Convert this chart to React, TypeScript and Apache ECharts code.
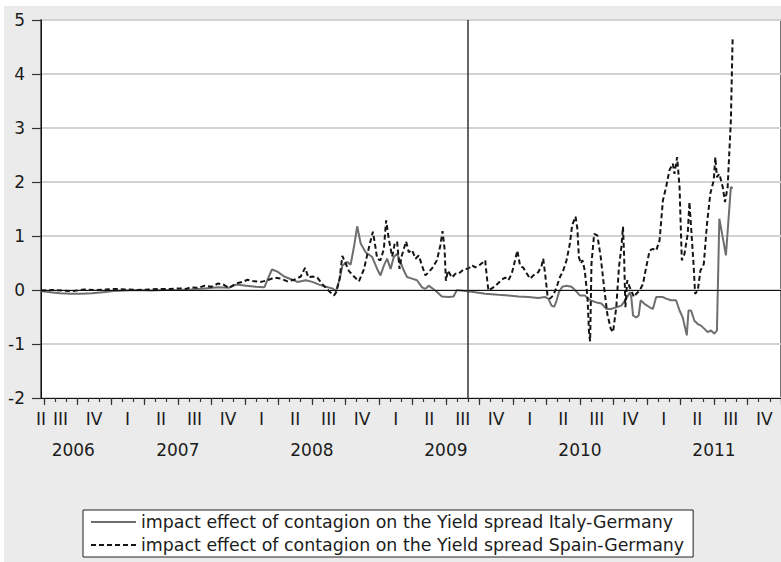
import React, { useEffect, useRef } from "react";
import * as echarts from "echarts";

// ---- axis ranges & tick labels ----
const X_MIN = 2006.479;
const X_MAX = 2012.0;
const Y_MIN = -2;
const Y_MAX = 5;
const BREAK_DATE = 2009.66;
const quarterNames = ["I", "II", "III", "IV"];
const yearLabels = ["2006", "2007", "2008", "2009", "2010", "2011"];
const yearLabelPos = [2006.72, 2007.5, 2008.5, 2009.5, 2010.5, 2011.5];
const firstYear = 2006;
const lastYear = 2011;

// ---- series (decimal year, value) ----
const italy: [number, number][] = [
  [2006.479, -0.02], [2006.55, -0.04], [2006.62, -0.06], [2006.7, -0.07], [2006.78, -0.07], [2006.86, -0.06],
  [2006.94, -0.04], [2007.02, -0.02], [2007.1, -0.01], [2007.2, 0.0], [2007.3, -0.01], [2007.4, 0.0],
  [2007.5, 0.0], [2007.6, 0.01], [2007.7, 0.03], [2007.8, 0.05], [2007.88, 0.04], [2007.934, 0.1],
  [2008.009, 0.08], [2008.083, 0.06], [2008.145, 0.05], [2008.177, 0.24], [2008.202, 0.38], [2008.243, 0.34],
  [2008.293, 0.25], [2008.355, 0.19], [2008.392, 0.15], [2008.455, 0.18], [2008.504, 0.15], [2008.554, 0.1],
  [2008.603, 0.06], [2008.652, 0.03], [2008.68, -0.02], [2008.707, 0.2], [2008.727, 0.45], [2008.762, 0.52],
  [2008.789, 0.47], [2008.814, 0.8], [2008.838, 1.18], [2008.864, 0.86], [2008.901, 0.7], [2008.95, 0.61],
  [2008.987, 0.39], [2009.012, 0.27], [2009.037, 0.45], [2009.061, 0.58], [2009.087, 0.39], [2009.111, 0.61],
  [2009.136, 0.67], [2009.161, 0.52], [2009.186, 0.36], [2009.21, 0.24], [2009.247, 0.21], [2009.284, 0.18],
  [2009.322, 0.05], [2009.347, 0.02], [2009.371, 0.08], [2009.421, -0.01], [2009.47, -0.12], [2009.52, -0.13],
  [2009.557, -0.12], [2009.582, 0.0], [2009.644, -0.02], [2009.719, -0.04], [2009.793, -0.07], [2009.892, -0.09],
  [2009.966, -0.1], [2010.041, -0.12], [2010.115, -0.13], [2010.189, -0.15], [2010.239, -0.13], [2010.264, -0.16],
  [2010.288, -0.29], [2010.308, -0.31], [2010.325, -0.2], [2010.343, -0.04], [2010.368, 0.06], [2010.4, 0.08],
  [2010.437, 0.06], [2010.467, -0.01], [2010.499, -0.1], [2010.536, -0.1], [2010.561, -0.16], [2010.586, -0.2],
  [2010.623, -0.23], [2010.66, -0.25], [2010.697, -0.35], [2010.734, -0.35], [2010.771, -0.32], [2010.809, -0.29],
  [2010.846, -0.16], [2010.872, -0.04], [2010.883, -0.13], [2010.896, -0.47], [2010.92, -0.51], [2010.938, -0.47],
  [2010.953, -0.19], [2010.983, -0.26], [2011.02, -0.32], [2011.044, -0.35], [2011.069, -0.13], [2011.094, -0.13],
  [2011.119, -0.13], [2011.143, -0.16], [2011.18, -0.19], [2011.217, -0.19], [2011.243, -0.38], [2011.267, -0.51],
  [2011.297, -0.84], [2011.31, -0.38], [2011.329, -0.38], [2011.354, -0.57], [2011.379, -0.63], [2011.403, -0.66],
  [2011.429, -0.72], [2011.453, -0.78], [2011.478, -0.75], [2011.503, -0.81], [2011.522, -0.75], [2011.54, 1.32],
  [2011.565, 0.98], [2011.589, 0.64], [2011.626, 1.91], [2011.639, 1.88],
];

const spain: [number, number][] = [
  [2006.479, -0.01], [2006.56, 0.0], [2006.64, -0.01], [2006.72, -0.02], [2006.8, 0.01], [2006.88, 0.0],
  [2006.96, 0.01], [2007.04, 0.02], [2007.12, 0.01], [2007.2, 0.0], [2007.28, 0.01], [2007.36, 0.02],
  [2007.44, 0.02], [2007.52, 0.03], [2007.56, 0.02], [2007.6, 0.05], [2007.65, 0.04], [2007.7, 0.08],
  [2007.75, 0.06], [2007.8, 0.12], [2007.84, 0.1], [2007.88, 0.04], [2007.934, 0.12], [2007.983, 0.15],
  [2008.02, 0.19], [2008.07, 0.16], [2008.12, 0.15], [2008.169, 0.18], [2008.219, 0.23], [2008.269, 0.21],
  [2008.318, 0.16], [2008.368, 0.19], [2008.417, 0.25], [2008.449, 0.41], [2008.474, 0.23], [2008.504, 0.25],
  [2008.541, 0.23], [2008.578, 0.11], [2008.623, -0.01], [2008.665, -0.1], [2008.682, -0.04], [2008.707, 0.21],
  [2008.727, 0.63], [2008.751, 0.5], [2008.777, 0.35], [2008.814, 0.25], [2008.851, 0.16], [2008.888, 0.38],
  [2008.925, 0.78], [2008.955, 1.08], [2008.974, 0.8], [2008.987, 0.58], [2009.012, 0.55], [2009.037, 0.76],
  [2009.054, 1.29], [2009.074, 0.94], [2009.099, 0.62], [2009.119, 0.87], [2009.136, 0.89], [2009.154, 0.39],
  [2009.168, 0.61], [2009.186, 0.76], [2009.203, 0.9], [2009.223, 0.7], [2009.247, 0.74], [2009.273, 0.58],
  [2009.297, 0.64], [2009.322, 0.45], [2009.347, 0.27], [2009.371, 0.33], [2009.396, 0.4], [2009.433, 0.55],
  [2009.458, 0.82], [2009.475, 1.09], [2009.49, 0.76], [2009.5, 0.17], [2009.515, 0.36], [2009.545, 0.23],
  [2009.57, 0.3], [2009.594, 0.3], [2009.632, 0.38], [2009.669, 0.4], [2009.693, 0.46], [2009.719, 0.42],
  [2009.756, 0.47], [2009.793, 0.55], [2009.805, 0.25], [2009.817, -0.01], [2009.867, 0.07], [2009.916, 0.19],
  [2009.942, 0.23], [2009.966, 0.18], [2009.991, 0.3], [2010.016, 0.55], [2010.033, 0.73], [2010.053, 0.45],
  [2010.078, 0.41], [2010.102, 0.31], [2010.128, 0.21], [2010.152, 0.27], [2010.189, 0.33], [2010.214, 0.45],
  [2010.226, 0.58], [2010.243, 0.24], [2010.258, -0.1], [2010.276, -0.16], [2010.301, -0.1], [2010.325, 0.05],
  [2010.351, 0.24], [2010.375, 0.36], [2010.4, 0.55], [2010.425, 0.86], [2010.442, 1.2], [2010.467, 1.36],
  [2010.481, 1.13], [2010.492, 0.61], [2010.507, 0.49], [2010.519, 0.55], [2010.536, 0.36], [2010.556, -0.13],
  [2010.568, -0.81], [2010.576, -0.95], [2010.586, 0.49], [2010.606, 1.04], [2010.63, 1.01], [2010.655, 0.61],
  [2010.68, 0.05], [2010.704, -0.44], [2010.73, -0.72], [2010.747, -0.78], [2010.771, -0.32], [2010.791, 0.42],
  [2010.809, 0.79], [2010.821, 1.17], [2010.829, 0.67], [2010.839, -0.32], [2010.853, 0.18], [2010.871, 0.05],
  [2010.883, -0.01], [2010.903, -0.13], [2010.92, -0.07], [2010.945, -0.01], [2010.97, 0.11], [2010.994, 0.42],
  [2011.02, 0.73], [2011.044, 0.76], [2011.069, 0.73], [2011.094, 0.92], [2011.119, 1.66], [2011.143, 1.91],
  [2011.168, 2.22], [2011.193, 2.34], [2011.205, 2.15], [2011.225, 2.46], [2011.243, 1.91], [2011.26, 0.55],
  [2011.28, 0.67], [2011.304, 1.04], [2011.317, 1.63], [2011.329, 1.17], [2011.349, 0.42], [2011.359, -0.07],
  [2011.379, -0.01], [2011.399, 0.36], [2011.424, 0.48], [2011.448, 1.23], [2011.473, 1.79], [2011.498, 2.03],
  [2011.51, 2.46], [2011.522, 2.09], [2011.54, 2.15], [2011.565, 1.91], [2011.582, 1.63], [2011.602, 1.91],
  [2011.626, 3.14], [2011.639, 4.65],
];

const italyName = "impact effect of contagion on the Yield spread Italy-Germany";
const spainName = "impact effect of contagion on the Yield spread Spain-Germany";

const FONT = "'DejaVu Sans', sans-serif";

function buildTicks() {
  const months: number[] = [];
  const quarters: number[] = [];
  const qPos: number[] = [X_MIN];
  const qText: string[] = ["II"];
  for (let y = firstYear; y <= lastYear + 1; y++) {
    for (let m = 0; m < 12; m++) {
      const v = y + m / 12;
      if (v >= X_MIN - 1e-9 && v <= X_MAX + 1e-9) {
        months.push(v);
        if (m % 3 === 0) quarters.push(v);
      }
    }
    if (y <= lastYear) {
      for (let q = 0; q < 4; q++) {
        const c = y + q * 0.25 + 0.125;
        if (c > X_MIN + 0.03 && c < X_MAX) {
          qPos.push(c);
          qText.push(quarterNames[q]);
        }
      }
    }
  }
  return { months, quarters, qPos, qText };
}

export default function App() {
  const ref = useRef<HTMLDivElement>(null);
  useEffect(() => {
    if (!ref.current) return;
    const chart = echarts.init(ref.current, undefined, { renderer: "svg" });
    const { months, quarters, qPos, qText } = buildTicks();
    const findLabel = (v: number, pos: number[], txt: string[]) => {
      for (let i = 0; i < pos.length; i++) if (Math.abs(pos[i] - v) < 1e-6) return txt[i];
      return "";
    };
    const labelStyle = { fontFamily: FONT, fontSize: 17, color: "#1c1c1c" };
    chart.setOption({
      animation: false,
      backgroundColor: "transparent",
      grid: {
        left: 41, top: 20, width: 743, height: 378,
        show: true, backgroundColor: "#ffffff", borderColor: "#444", borderWidth: 1.5,
      },
      legend: {
        orient: "vertical", left: 83, top: 510,
        itemWidth: 45, itemHeight: 14, itemGap: 3,
        padding: [2, 9, 2, 7],
        backgroundColor: "#ffffff", borderColor: "#222", borderWidth: 1,
        itemStyle: { color: "transparent", borderColor: "transparent", borderWidth: 0 },
        textStyle: { fontFamily: FONT, fontSize: 17.4, color: "#1c1c1c", lineHeight: 20 },
        data: [italyName, spainName],
      },
      xAxis: [
        {
          type: "value", min: X_MIN, max: X_MAX, position: "bottom",
          axisLine: { show: true, onZero: false, lineStyle: { color: "#111", width: 1 } },
          axisTick: { show: true, customValues: months, length: 4, lineStyle: { color: "#333", width: 1.2 } },
          axisLabel: {
            show: true, customValues: qPos, margin: 12, ...labelStyle,
            formatter: (v: number) => findLabel(v, qPos, qText),
          },
          splitLine: { show: false },
        },
        {
          type: "value", min: X_MIN, max: X_MAX, position: "bottom",
          axisLine: { show: false, onZero: false },
          axisTick: { show: true, customValues: quarters, length: 7, lineStyle: { color: "#333", width: 1.2 } },
          axisLabel: {
            show: true, customValues: yearLabelPos, margin: 43, ...labelStyle,
            formatter: (v: number) => findLabel(v, yearLabelPos, yearLabels),
          },
          splitLine: { show: false },
        },
      ],
      yAxis: {
        type: "value", min: Y_MIN, max: Y_MAX, interval: 1,
        axisLine: { show: true, onZero: false, lineStyle: { color: "#111", width: 1 } },
        axisTick: { show: true, length: 9, lineStyle: { color: "#333", width: 1.2 } },
        axisLabel: { margin: 16, ...labelStyle },
        splitLine: { show: true, lineStyle: { color: "#d2d2d2", width: 2 } },
      },
      series: [
        {
          name: italyName, type: "line", xAxisIndex: 0, data: italy,
          symbol: "none", showSymbol: false,
          lineStyle: { color: "#6e6e6e", width: 2 }, itemStyle: { color: "#6e6e6e" },
          markLine: {
            silent: true, symbol: "none", label: { show: false },
            data: [
              { yAxis: 0, lineStyle: { color: "#111", width: 1.2, type: "solid" } },
              { xAxis: BREAK_DATE, lineStyle: { color: "#333", width: 1.5, type: "solid" } },
            ],
          },
        },
        {
          name: spainName, type: "line", xAxisIndex: 0, data: spain,
          symbol: "none", showSymbol: false,
          lineStyle: { color: "#151515", width: 2, type: [5, 3] }, itemStyle: { color: "#151515" },
        },
      ],
    });
    return () => chart.dispose();
  }, []);
  return (
    <div style={{ position: "absolute", left: 0, top: 0, width: 781, height: 562, background: "#fff", overflow: "hidden" }}>
      <div style={{ position: "absolute", left: 4, top: 6, width: 777, height: 556, background: "#ebebeb" }} />
      <div ref={ref} style={{ position: "absolute", left: 0, top: 0, width: 781, height: 562 }} />
    </div>
  );
}
